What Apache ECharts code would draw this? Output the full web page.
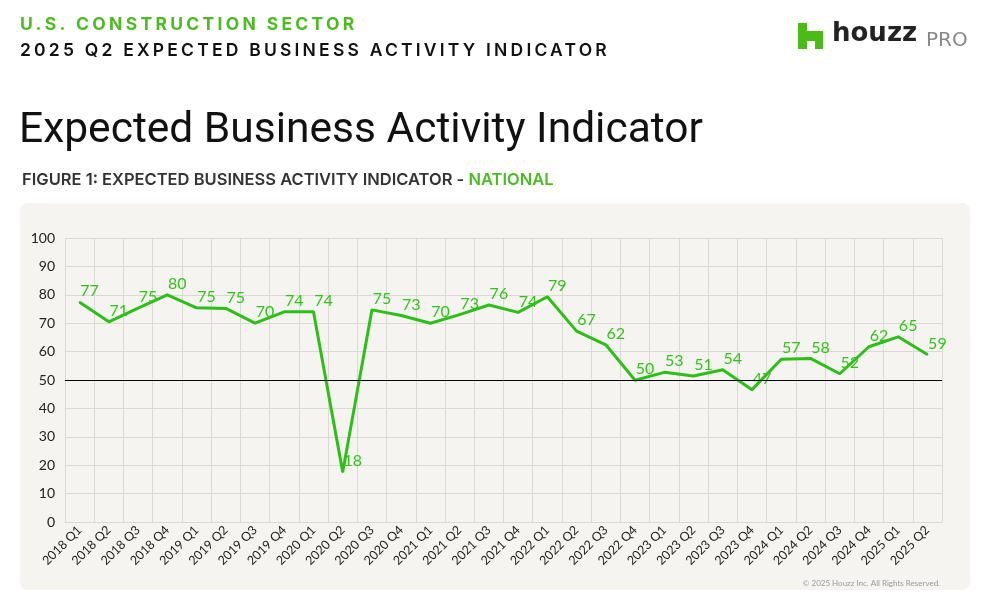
<!DOCTYPE html>
<html>
<head>
<meta charset="utf-8">
<script src="https://cdn.jsdelivr.net/npm/echarts@6/dist/echarts.min.js"></script>
<style>
html,body{margin:0;padding:0;background:#fff;}
#chart{width:990px;height:608px;}
</style>
</head>
<body>
<div id="chart"></div>
<script>
const categories = ["2018 Q1","2018 Q2","2018 Q3","2018 Q4","2019 Q1","2019 Q2","2019 Q3","2019 Q4","2020 Q1","2020 Q2","2020 Q3","2020 Q4","2021 Q1","2021 Q2","2021 Q3","2021 Q4","2022 Q1","2022 Q2","2022 Q3","2022 Q4","2023 Q1","2023 Q2","2023 Q3","2023 Q4","2024 Q1","2024 Q2","2024 Q3","2024 Q4","2025 Q1","2025 Q2"];
const indicatorValues = [77.4,70.5,75.3,80.0,75.4,75.2,70.0,74.0,74.0,17.6,74.7,72.7,70.0,73.0,76.4,73.8,79.3,67.2,62.4,49.9,52.7,51.4,53.6,46.6,57.3,57.6,52.2,61.7,65.2,59.0];
const referenceLevel = 50;
const yTicks = {min:0, max:100, interval:10};

// letter-spacing support: fonts tagged with a fallback family "LSnn" get nn/10 px spacing
(function(){
  const P = CanvasRenderingContext2D.prototype;
  if (!('letterSpacing' in P)) return;
  const orig = P.fillText;
  P.fillText = function(t, x, y, w){
    const m = /LS(\d+)/.exec(this.font || '');
    this.letterSpacing = m ? (parseInt(m[1],10)/10) + 'px' : '0px';
    const r = w === undefined ? orig.call(this, t, x, y) : orig.call(this, t, x, y, w);
    this.letterSpacing = '0px';
    return r;
  };
})();

const chart = echarts.init(document.getElementById('chart'), null, {renderer:'canvas'});
const GREEN = '#2cbf17';
const option = {
  animation:false,
  backgroundColor:'#ffffff',
  graphic:[
    {type:'rect', z:-10, shape:{x:20,y:203,width:950,height:387,r:8}, style:{fill:'#f6f4f0'}},
    {type:'text', left:20, top:16, style:{text:'U.S. CONSTRUCTION SECTOR', font:'bold 17.5px Inter, LS33', fill:'#4cbb22'}},
    {type:'text', left:20, top:42, style:{text:'2025 Q2 EXPECTED BUSINESS ACTIVITY INDICATOR', font:'600 17.5px Inter, LS32', fill:'#111'}},
    {type:'text', left:19, top:110, style:{text:'Expected Business Activity Indicator', font:'400 42.5px Roboto', fill:'#111'}},
    {type:'text', left:22, top:172, style:{
      text:'{a|FIGURE 1: EXPECTED BUSINESS ACTIVITY INDICATOR - }{b|NATIONAL}',
      rich:{a:{font:'600 16.5px Inter', fill:'#333'}, b:{font:'600 16.5px Inter', fill:'#4cbb22'}}
    }},
    {type:'polygon', shape:{points:[[798,23],[807,23],[807,31],[823,31],[823,49],[815,49],[815,41],[807,41],[807,49],[798,49]]}, style:{fill:'#4cbb17'}},
    {type:'text', left:832, top:21, style:{text:'houzz', font:'bold 26px "DejaVu Sans"', fill:'#222'}},
    {type:'text', left:926, top:31, style:{text:'PRO', font:'400 20px "DejaVu Sans"', fill:'#888'}},
    {type:'text', right:50, top:579, style:{text:'© 2025 Houzz Inc. All Rights Reserved.', font:'8px Lato', fill:'#999'}}
  ],
  grid:{left:65, right:48, top:238, bottom:86},
  xAxis:{
    type:'category', data:categories, boundaryGap:true,
    axisLine:{show:true, lineStyle:{color:'#dcd9d4'}},
    axisTick:{show:false},
    axisLabel:{interval:0, rotate:45, color:'#222', fontSize:12.5, fontFamily:'Lato', margin:6},
    splitLine:{show:true, interval:0, lineStyle:{color:'#dcd9d4', width:1}}
  },
  yAxis:{
    type:'value', min:yTicks.min, max:yTicks.max, interval:yTicks.interval,
    axisLine:{show:false}, axisTick:{show:false},
    axisLabel:{color:'#222', fontSize:14, fontFamily:'Lato', margin:10},
    splitLine:{lineStyle:{color:'#dcd9d4', width:1}}
  },
  series:[{
    type:'line', data:indicatorValues, symbol:'circle', symbolSize:2, showSymbol:true,
    itemStyle:{color:GREEN},
    lineStyle:{color:GREEN, width:3},
    label:{show:true, position:[11,-10], align:'center', verticalAlign:'middle', color:'#33c21d', fontSize:16, fontFamily:'Lato',
      formatter:(p)=>String(Math.round(p.value))},
    labelLayout:{hideOverlap:false},
    markLine:{silent:true, symbol:'none', label:{show:false},
      lineStyle:{color:'#000', width:1, type:'solid'},
      data:[{yAxis:referenceLevel}]}
  }]
};
chart.setOption(option);
</script>
</body>
</html>
